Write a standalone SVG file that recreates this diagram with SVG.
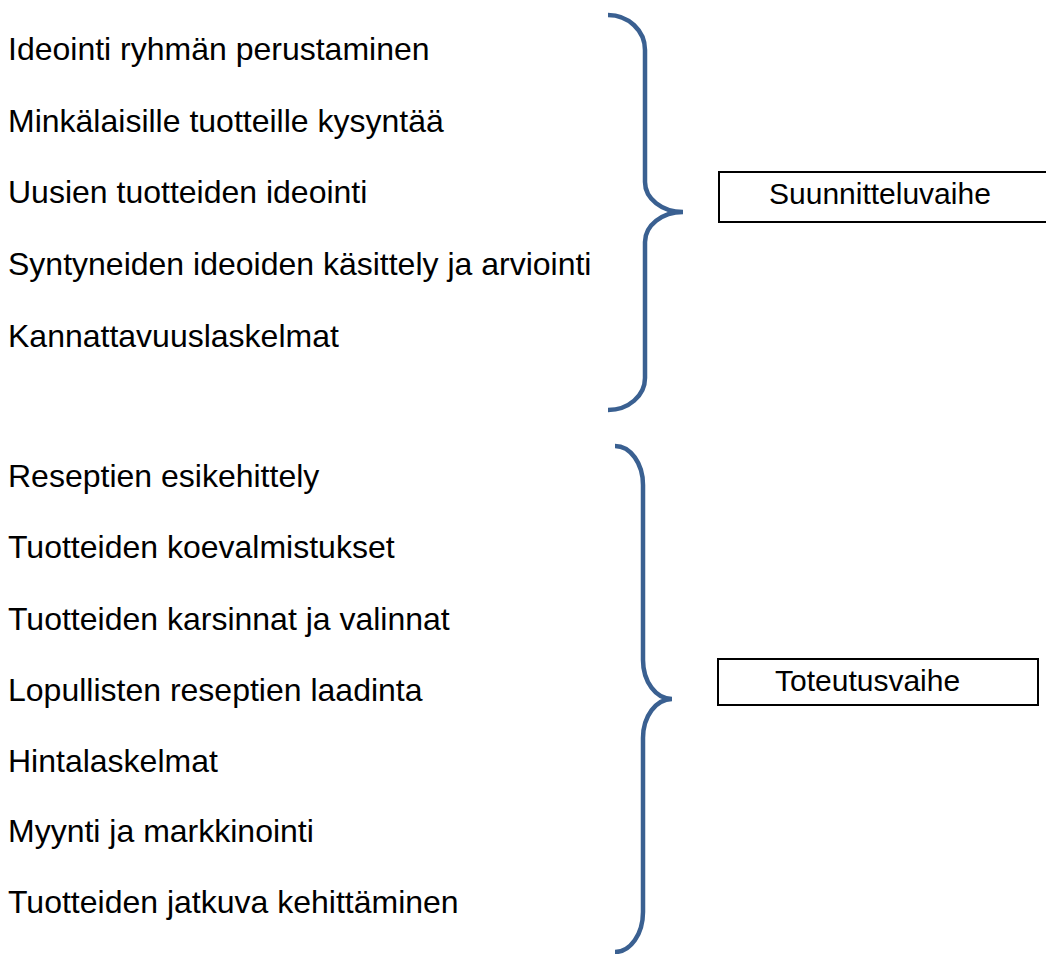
<svg xmlns="http://www.w3.org/2000/svg" width="1046" height="954" viewBox="0 0 1046 954">
<style>
.item{font-family:"Liberation Sans",Arial,sans-serif;font-size:32px;fill:#000}
.lbl{font-family:"Liberation Sans",Arial,sans-serif;font-size:30px;fill:#000}
.box{fill:#fff;stroke:#000;stroke-width:2}
.brace{fill:none;stroke:#3a6091;stroke-width:4.5;stroke-linecap:butt}
</style>
<rect width="1046" height="954" fill="#fff"/>
<g id="items-planning">
<text class="item" x="8" y="60">Ideointi ryhmän perustaminen</text>
<text class="item" x="8" y="131.5">Minkälaisille tuotteille kysyntää</text>
<text class="item" x="8" y="203">Uusien tuotteiden ideointi</text>
<text class="item" x="8" y="275">Syntyneiden ideoiden käsittely ja arviointi</text>
<text class="item" x="8" y="346.5">Kannattavuuslaskelmat</text>
</g>
<g id="items-implementation">
<text class="item" x="8" y="487">Reseptien esikehittely</text>
<text class="item" x="8" y="558">Tuotteiden koevalmistukset</text>
<text class="item" x="8" y="630">Tuotteiden karsinnat ja valinnat</text>
<text class="item" x="8" y="701">Lopullisten reseptien laadinta</text>
<text class="item" x="8" y="772">Hintalaskelmat</text>
<text class="item" x="8" y="842">Myynti ja markkinointi</text>
<text class="item" x="8" y="913">Tuotteiden jatkuva kehittäminen</text>
</g>
<g id="connectors">
<path class="brace" d="M608,15 A37,35 0 0 1 645,50 L645,182 A38,30 0 0 0 683,212 A38,30 0 0 0 645,242 L645,378 A37,32 0 0 1 608,410"/>
<path class="brace" d="M615,446 A28,39 0 0 1 643,485 L643,660 A29,39 0 0 0 672,699 A29,39 0 0 0 643,738 L643,912 A28,40 0 0 1 615,952"/>
</g>
<g id="node-suunnitteluvaihe">
<rect class="box" x="719" y="172" width="340" height="50"/>
<text class="lbl" x="769" y="203.5">Suunnitteluvaihe</text>
</g>
<g id="node-toteutusvaihe">
<rect class="box" x="718" y="659" width="320" height="46"/>
<text class="lbl" x="775" y="691">Toteutusvaihe</text>
</g>
</svg>
